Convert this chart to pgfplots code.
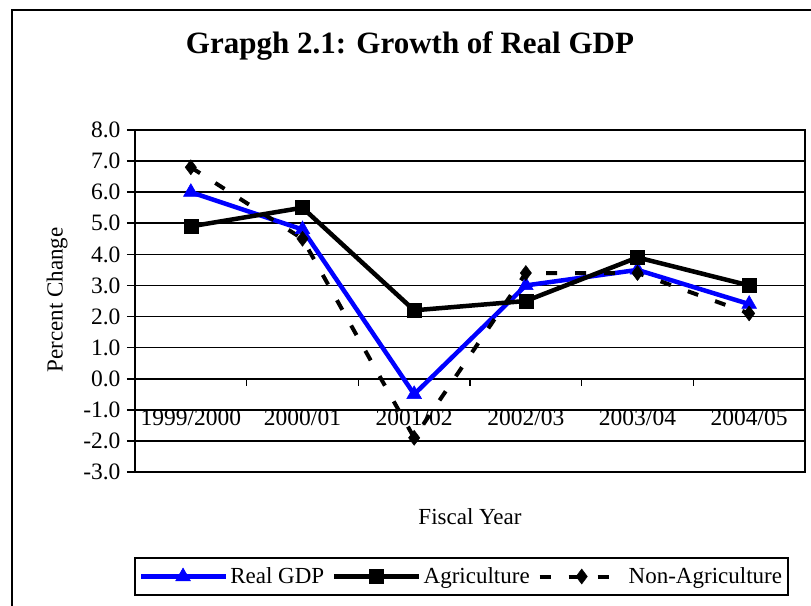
\documentclass[border=0pt]{standalone}
\usepackage{fontspec}
\setmainfont{Liberation Serif}
\usepackage{pgfplots}
\pgfplotsset{compat=1.18}
\begin{document}
\begin{tikzpicture}
\useasboundingbox (0pt,0pt) rectangle (811pt,605pt);
\draw[line width=1.8pt] (12pt,-20pt) -- (12pt,595pt) -- (830pt,595pt);
\begin{axis}[
  at={(135pt,133pt)}, anchor=south west,
  scale only axis, width=670pt, height=342pt,
  xmin=-0.5, xmax=5.5, ymin=-3, ymax=8,
  xtick={0,1,2,3,4,5},
  xticklabels={1999/2000,2000/01,2001/02,2002/03,2003/04,2004/05},
  xtick style={draw=none},
  x tick label style={anchor=center, yshift=62pt, font=\fontsize{23.5}{25}\selectfont},
  ytick={-3,-2,-1,0,1,2,3,4,5,6,7,8},
  yticklabels={-3.0,-2.0,-1.0,0.0,1.0,2.0,3.0,4.0,5.0,6.0,7.0,8.0},
  y tick label style={font=\fontsize{23.5}{25}\selectfont, xshift=-3pt},
  ytick pos=left, tick align=outside, major tick length=8pt,
  ytick style={line width=1.6pt, black},
  ymajorgrids, grid style={line width=1.6pt, black},
  axis line style={line width=1.6pt},
  title={\textbf{Grapgh 2.1: Growth of Real GDP}},
  title style={at={(0.4104,1.228)}, anchor=center, font=\fontsize{31}{34}\selectfont},
  xlabel={Fiscal Year},
  xlabel style={at={(0.5,-0.1316)}, anchor=center, font=\fontsize{23}{25}\selectfont},
  ylabel={Percent Change},
  ylabel style={at={(-0.1164,0.503)}, anchor=center, font=\fontsize{23}{25}\selectfont},
  legend columns=3,
  legend style={at={(-0.0015,-0.2485)}, anchor=north west, draw=black, line width=1.6pt,
    font=\fontsize{23}{25}\selectfont, inner xsep=4pt, inner ysep=8pt,
    /tikz/every even column/.append style={column sep=6pt}},
  legend image code/.code={\draw[mark repeat=2,mark phase=2,#1] plot coordinates {(0pt,0pt) (42pt,0pt) (85pt,0pt)};},
  clip=false,
]
\addplot[blue, line width=4.5pt, mark=triangle*, mark size=8.5pt, mark options={solid, line width=0.5pt}]
  coordinates {(0,6.0) (1,4.8) (2,-0.5) (3,3.0) (4,3.5) (5,2.4)};
\addlegendentry{Real GDP}
\addplot[black, line width=4.5pt, mark=square*, mark size=7pt, mark options={solid, line width=0.5pt}]
  coordinates {(0,4.9) (1,5.5) (2,2.2) (3,2.5) (4,3.9) (5,3.0)};
\addlegendentry{Agriculture}
\addplot[black, line width=4pt, dash pattern=on 11pt off 18pt, mark=diamond*, mark size=7.5pt, mark options={solid, line width=0.5pt}]
  coordinates {(0,6.8) (1,4.5) (2,-1.9) (3,3.4) (4,3.4) (5,2.1)};
\addlegendentry{Non-Agriculture\hspace{16pt}}
\addplot[ycomb, black, line width=1.6pt, no marks, forget plot]
  coordinates {(0.5,-0.225) (1.5,-0.225) (2.5,-0.225) (3.5,-0.225) (4.5,-0.225)};
\end{axis}
\end{tikzpicture}
\end{document}
